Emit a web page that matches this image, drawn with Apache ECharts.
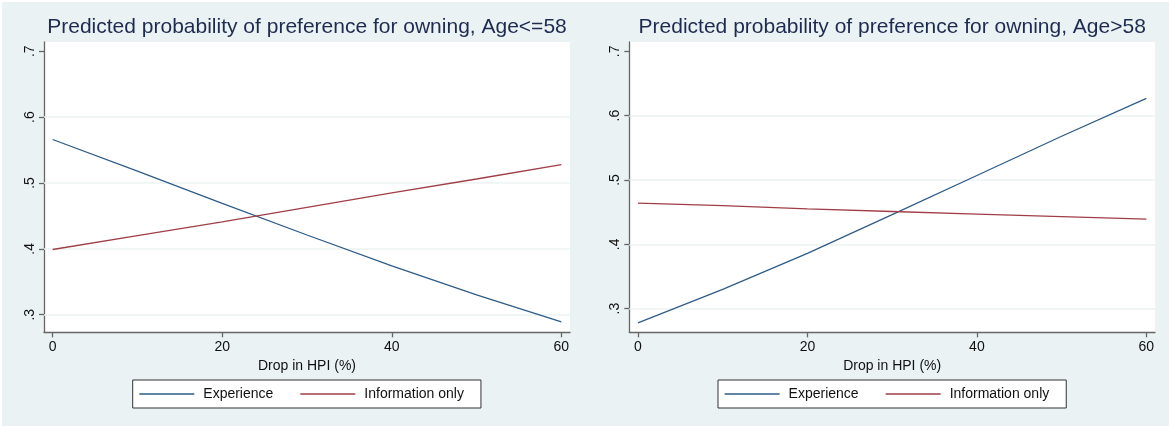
<!DOCTYPE html>
<html><head><meta charset="utf-8">
<script src="https://cdn.jsdelivr.net/npm/echarts@6/dist/echarts.min.js"></script>
<style>html,body{margin:0;padding:0;background:#EAF2F3}#c{width:1169px;height:426px}</style>
</head><body><div id="c"></div>
<script>
const xValues = [0, 10, 20, 30, 40, 50, 60];
const expYoung = [0.566, 0.518, 0.469, 0.421, 0.374, 0.330, 0.289];
const infoYoung = [0.399, 0.420, 0.441, 0.463, 0.485, 0.506, 0.528];
const expOld = [0.278, 0.330, 0.386, 0.446, 0.507, 0.568, 0.627];
const infoOld = [0.464, 0.460, 0.455, 0.451, 0.447, 0.443, 0.439];
const xTicks = [0, 20, 40, 60];
const yTicks = [0.3, 0.4, 0.5, 0.6, 0.7];
const gridValues = [0.3, 0.4, 0.5, 0.6];
const titles = ['Predicted probability of preference for owning, Age<=58', 'Predicted probability of preference for owning, Age>58'];
const seriesNames = ['Experience', 'Information only'];
const xTitle = 'Drop in HPI (%)';

const FONT = "'Liberation Sans', Arial, sans-serif";
const BLUE = '#2E5C88', RED = '#A03E47';
const AXIS = '#666666';
const pairs = (ys) => xValues.map((x, i) => [x, ys[i]]);

const grids = [
  { left: 44, top: 42, width: 526, height: 290.3 },
  { left: 629.3, top: 42, width: 525.7, height: 290.3 }
];
const yRanges = [[0.2733, 0.714], [0.2632, 0.7145]];
const centers = [307, 892.2];
const legendLefts = [132.7, 718];

function xAxisFor(i) {
  return {
    type: 'value', gridIndex: i, min: -1.02, max: 61.02,
    name: xTitle, nameLocation: 'middle', nameGap: 24,
    nameTextStyle: { fontFamily: FONT, fontSize: 14, color: '#111' },
    axisLine: { show: true, onZero: false, lineStyle: { color: AXIS, width: 1.3 } },
    axisTick: { show: true, length: 5, customValues: xTicks, lineStyle: { color: AXIS, width: 1.3 } },
    axisLabel: { customValues: xTicks, margin: 8, fontFamily: FONT, fontSize: 14, color: '#111' },
    splitLine: { show: false }
  };
}
function yAxisFor(i) {
  return {
    type: 'value', gridIndex: i, min: yRanges[i][0], max: yRanges[i][1],
    axisLine: { show: true, onZero: false, lineStyle: { color: AXIS, width: 1.3 } },
    axisTick: { show: true, length: 5, customValues: yTicks, lineStyle: { color: AXIS, width: 1.3 } },
    axisLabel: { customValues: yTicks, rotate: 90, margin: 7, fontFamily: FONT, fontSize: 14, color: '#111',
      formatter: v => Number(v).toFixed(1).slice(1) },
    splitLine: { show: false }
  };
}
function lineSeries(name, ys, color, gi) {
  return {
    name, type: 'line', xAxisIndex: gi, yAxisIndex: gi, data: pairs(ys),
    symbol: 'none', smooth: false, lineStyle: { color, width: 1.3 }, itemStyle: { color },
    z: 5
  };
}
function gridSeries(gi) {
  return {
    name: 'grid' + gi, type: 'line', xAxisIndex: gi, yAxisIndex: gi, data: [], z: 1,
    markLine: {
      silent: true, symbol: ['none', 'none'], label: { show: false }, animation: false, z: 1,
      lineStyle: { color: '#EBF2F3', width: 1.5, type: 'solid' },
      data: gridValues.map(v => ({ yAxis: v }))
    }
  };
}

const option = {
  backgroundColor: '#EAF2F3',
  animation: false,
  title: titles.map((t, i) => ({
    text: t, left: centers[i], top: 17, textAlign: 'center', padding: 0,
    textStyle: { fontFamily: FONT, fontSize: 21, fontWeight: 'normal', color: '#1E2B50' }
  })),
  legend: legendLefts.map(l => ({
    data: seriesNames.map(n => ({ name: n, icon: 'rect' })), left: l, top: 380, orient: 'horizontal',
    itemWidth: 55, itemHeight: 1.5, itemGap: 27,
    padding: [6, 17, 6, 6.6],
    backgroundColor: '#ffffff', borderColor: '#333333', borderWidth: 1, borderRadius: 0,
    selectedMode: false,
    textStyle: { fontFamily: FONT, fontSize: 14, color: '#111', padding: [0, 0, 0, 4], lineHeight: 16 }
  })),
  grid: grids.map(g => Object.assign({ backgroundColor: '#ffffff', show: true, borderWidth: 0, containLabel: false }, g)),
  xAxis: [xAxisFor(0), xAxisFor(1)],
  yAxis: [yAxisFor(0), yAxisFor(1)],
  graphic: [
    { type: 'rect', left: 0, top: 0, shape: { width: 2, height: 426 }, style: { fill: '#ffffff' }, silent: true },
    { type: 'rect', left: 0, top: 0, shape: { width: 1169, height: 2 }, style: { fill: '#ffffff' }, silent: true }
  ],
  series: [
    gridSeries(0), gridSeries(1),
    lineSeries(seriesNames[0], expYoung, BLUE, 0),
    lineSeries(seriesNames[1], infoYoung, RED, 0),
    lineSeries(seriesNames[0], expOld, BLUE, 1),
    lineSeries(seriesNames[1], infoOld, RED, 1)
  ]
};
const chart = echarts.init(document.getElementById('c'), null, { renderer: 'canvas' });
chart.setOption(option);
</script></body></html>
